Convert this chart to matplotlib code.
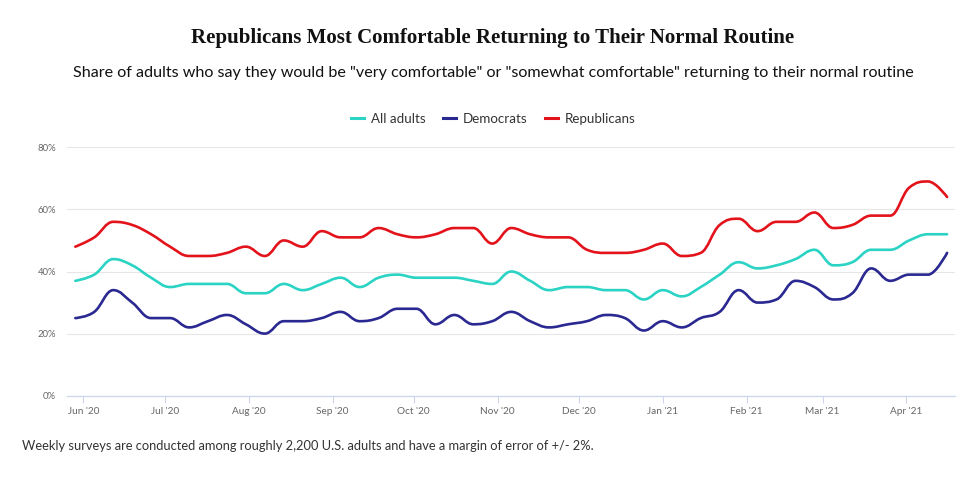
import matplotlib
matplotlib.use("Agg")
import matplotlib.pyplot as plt
import matplotlib.dates as mdates
from matplotlib.lines import Line2D
from matplotlib.path import Path
from matplotlib.patches import PathPatch
import pandas as pd

# ── Data (weekly surveys, %) ─────────────────────────────────────────────
survey_dates = pd.date_range("2020-05-29", periods=47, freq="7D")

all_adults = [37, 39, 44, 42, 38, 35, 36, 36, 36, 33, 33, 36, 34, 36, 38, 35,
              38, 39, 38, 38, 38, 37, 36, 40, 37, 34, 35, 35, 34, 34, 31, 34,
              32, 35, 39, 43, 41, 42, 44, 47, 42, 43, 47, 47, 50, 52, 52]
democrats = [25, 27, 34, 30, 25, 25, 22, 24, 26, 23, 20, 24, 24, 25, 27, 24,
             25, 28, 28, 23, 26, 23, 24, 27, 24, 22, 23, 24, 26, 25, 21, 24,
             22, 25, 27, 34, 30, 31, 37, 35, 31, 33, 41, 37, 39, 39, 46]
republicans = [48, 51, 56, 55, 52, 48, 45, 45, 46, 48, 45, 50, 48, 53, 51, 51,
               54, 52, 51, 52, 54, 54, 49, 54, 52, 51, 51, 47, 46, 46, 47, 49,
               45, 46, 55, 57, 53, 56, 56, 59, 54, 55, 58, 58, 67, 69, 64]

series_names = ["All adults", "Democrats", "Republicans"]
series_values = [all_adults, democrats, republicans]
series_colors = ["#2ad3c4", "#2a2891", "#e3131c"]

TEXT_DARK = "#333333"
TICK_GREY = "#666666"
GRID = "#e6e6e6"
AXIS_LINE = "#ccd6eb"
CENTER_X = 493 / 960   # titles and legend sit a little right of centre


def spline_path(xs, ys, smoothing=1.5):
    """Smooth path through the points, same control-point rule as a Highcharts spline."""
    n = len(xs)
    denom = smoothing + 1
    left = [None] * n
    right = [None] * n
    for i in range(n):
        x, y = xs[i], ys[i]
        if i == 0 or i == n - 1:
            left[i] = right[i] = (x, y)
            continue
        lx, ly = xs[i - 1], ys[i - 1]
        nx, ny = xs[i + 1], ys[i + 1]
        lcx = (smoothing * x + lx) / denom
        lcy = (smoothing * y + ly) / denom
        rcx = (smoothing * x + nx) / denom
        rcy = (smoothing * y + ny) / denom
        corr = ((rcy - lcy) * (rcx - x)) / (rcx - lcx) + y - rcy
        lcy += corr
        rcy += corr
        # no overshoot past neighbouring points
        if lcy > ly and lcy > y:
            lcy = max(ly, y)
            rcy = 2 * y - lcy
        elif lcy < ly and lcy < y:
            lcy = min(ly, y)
            rcy = 2 * y - lcy
        if rcy > ny and rcy > y:
            rcy = max(ny, y)
            lcy = 2 * y - rcy
        elif rcy < ny and rcy < y:
            rcy = min(ny, y)
            lcy = 2 * y - rcy
        left[i] = (lcx, lcy)
        right[i] = (rcx, rcy)

    verts = [(xs[0], ys[0])]
    codes = [Path.MOVETO]
    for i in range(1, n):
        verts += [right[i - 1], left[i], (xs[i], ys[i])]
        codes += [Path.CURVE4] * 3
    return Path(verts, codes)


fig = plt.figure(figsize=(9.6, 4.8), dpi=100)
ax = fig.add_axes([0.070, 0.1756, 0.925, 0.5175])

xnum = mdates.date2num(survey_dates.to_pydatetime())
for vals, color in zip(series_values, series_colors):
    path = spline_path(list(xnum), list(vals))
    ax.add_patch(PathPatch(path, facecolor="none", edgecolor=color,
                           linewidth=1.9, capstyle="round", joinstyle="round"))

ax.set_xlim(pd.Timestamp("2020-05-26"), pd.Timestamp("2021-04-19"))
ax.set_ylim(0, 80)

# axes styling
for side in ["top", "right", "left"]:
    ax.spines[side].set_visible(False)
ax.spines["bottom"].set_color(AXIS_LINE)
ax.spines["bottom"].set_linewidth(0.9)

ax.set_yticks([0, 20, 40, 60, 80])
ax.set_yticklabels([f"{v}%" for v in [0, 20, 40, 60, 80]])
ax.yaxis.grid(True, color=GRID, linewidth=0.8)
ax.set_axisbelow(True)
ax.tick_params(axis="y", length=0, pad=8, labelsize=6.8, labelcolor=TICK_GREY)

ax.xaxis.set_major_locator(mdates.MonthLocator())
ax.xaxis.set_major_formatter(mdates.DateFormatter("%b '%y"))
ax.tick_params(axis="x", length=5, width=0.8, color=AXIS_LINE, pad=3,
               labelsize=7.2, labelcolor=TICK_GREY)
for lbl in ax.get_xticklabels() + ax.get_yticklabels():
    lbl.set_family("Lato")

# titles
fig.text(CENTER_X, 1 - 38 / 480, "Republicans Most Comfortable Returning to Their Normal Routine",
         ha="center", va="center", fontsize=15, fontweight="bold",
         family="Liberation Serif", color="#111111")
fig.text(CENTER_X, 1 - 73 / 480,
         'Share of adults who say they would be "very comfortable" or "somewhat comfortable" '
         'returning to their normal routine',
         ha="center", va="center", fontsize=11.6, family="Lato", color="#111111")

# legend
handles = [Line2D([0], [0], color=c, linewidth=2.2) for c in series_colors]
leg = fig.legend(handles, series_names, loc="center", bbox_to_anchor=(CENTER_X, 1 - 119 / 480),
                 ncol=3, frameon=False, handlelength=1.0, handletextpad=0.5,
                 columnspacing=1.3, prop={"family": "Lato", "size": 9.6})
for t in leg.get_texts():
    t.set_color(TEXT_DARK)

# footnote
fig.text(22 / 960, 1 - 446 / 480,
         "Weekly surveys are conducted among roughly 2,200 U.S. adults and have a margin of error of +/- 2%.",
         ha="left", va="center", fontsize=9.3, family="Lato", color=TEXT_DARK)

fig.savefig("out.png", dpi=100, facecolor="white")
